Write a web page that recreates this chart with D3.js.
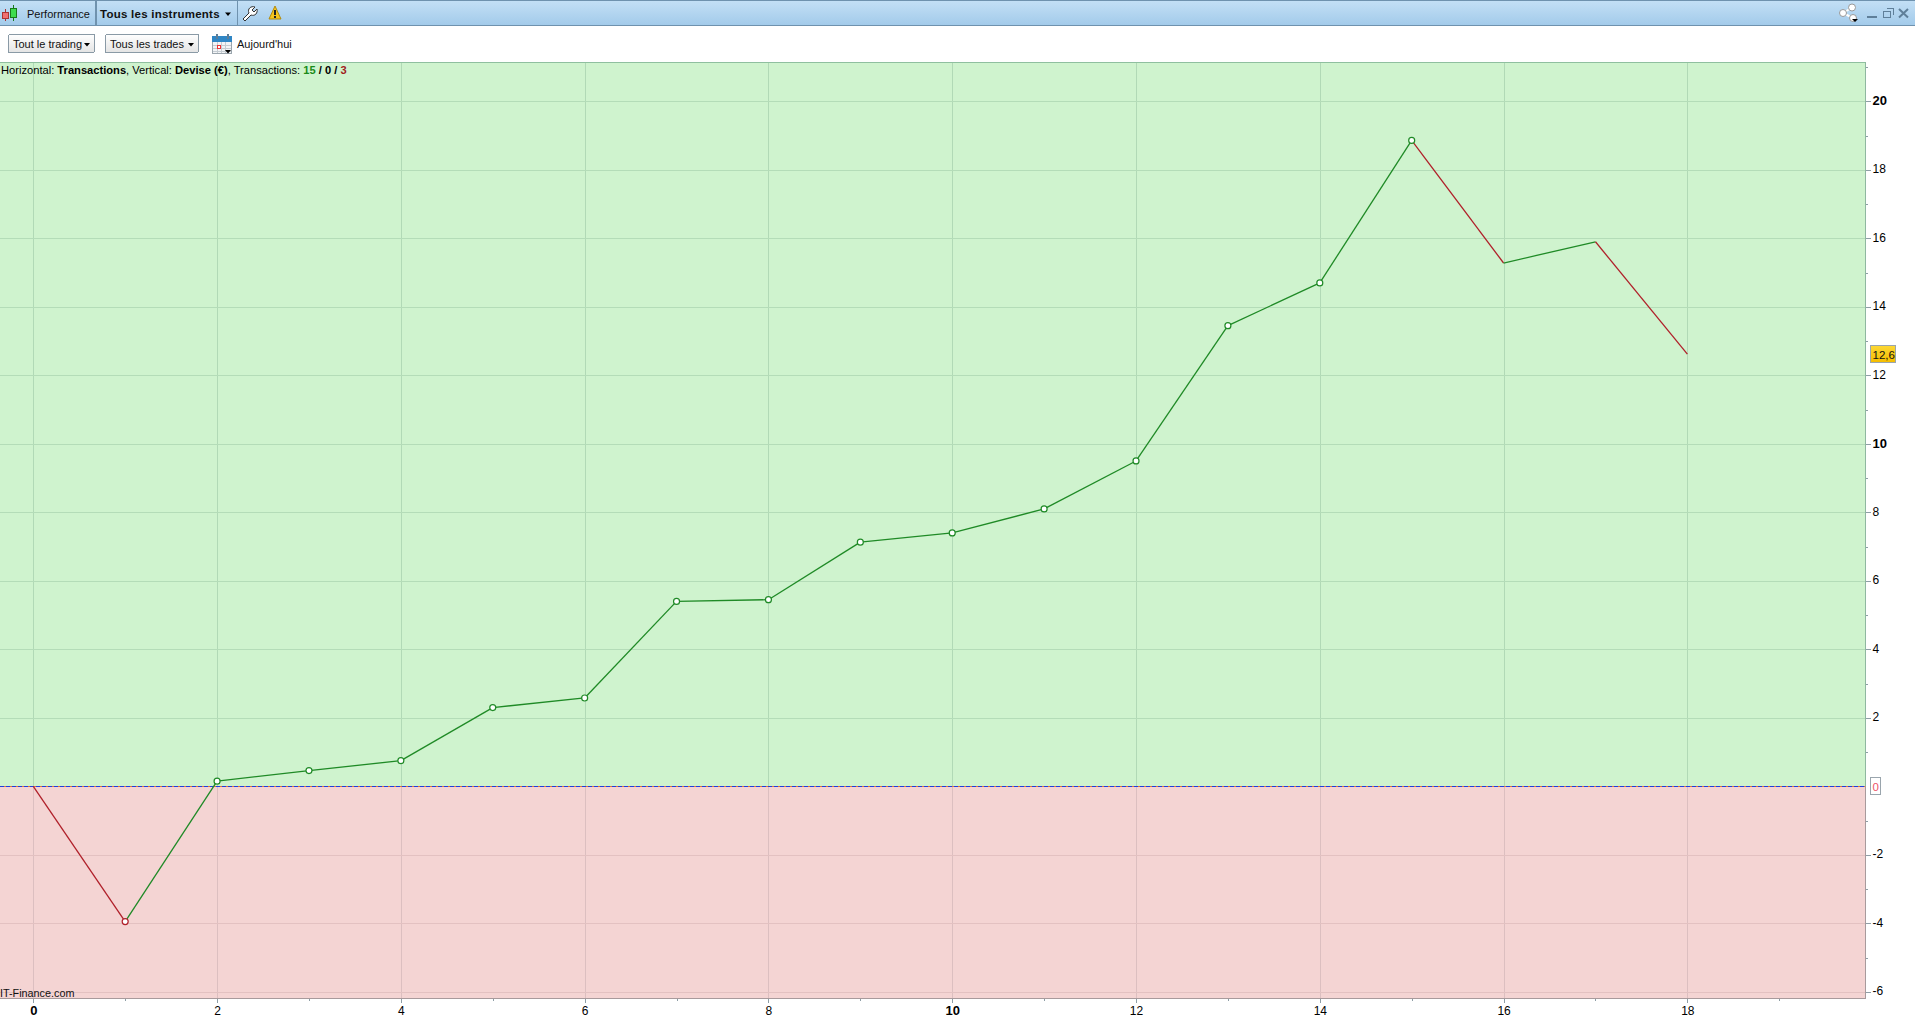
<!DOCTYPE html>
<html lang="fr"><head><meta charset="utf-8"><title>Performance</title>
<script src="https://cdn.jsdelivr.net/npm/d3@7"></script>
<style>
html,body{margin:0;padding:0;background:#fff;overflow:hidden}
svg{display:block;font-family:"Liberation Sans",Arial,sans-serif;shape-rendering:crispEdges}
text{shape-rendering:auto;fill:#000}
</style></head><body><svg id="c" width="1915" height="1018"></svg>
<script>
const transactions=[0,1,2,3,4,5,6,7,8,9,10,11,12,13,14,15,16,17,18];
const equity=[0,-3.95,0.15,0.46,0.75,2.3,2.58,5.4,5.45,7.13,7.4,8.1,9.5,13.45,14.7,18.86,15.28,15.9,12.62];
const markerShown=[false,true,true,true,true,true,true,true,true,true,true,true,true,true,true,true,false,false,false];
const xTicks=[0,1,2,3,4,5,6,7,8,9,10,11,12,13,14,15,16,17,18,19];
const yTicks=[-6,-5,-4,-3,-2,-1,1,2,3,4,5,6,7,8,9,10,11,12,13,14,15,16,17,18,19,20,21];
const boldTicks=[0,10,20];
const lastLabel="12,6";
const zeroLabel="0";
const titleParts=[["Horizontal: ",400,"#000"],["Transactions",700,"#000"],[", Vertical: ",400,"#000"],["Devise (€)",700,"#000"],[", Transactions: ",400,"#000"],["15",700,"#1a8a1a"],[" / ",700,"#000"],["0",700,"#000"],[" / ",700,"#000"],["3",700,"#a01c1c"]];

const svg=d3.select("#c");
const P={l:0,r:1865,t:63,b:998};
const x=d3.scaleLinear().domain([-0.3623,19.933]).range([P.l,P.r]);
const y=d3.scaleLinear().domain([-6.18,21.12]).range([P.b,P.t]);
const defs=svg.append("defs");
const g=defs.append("linearGradient").attr("id","hdr").attr("x2",0).attr("y2",1);
g.append("stop").attr("offset",0).attr("stop-color","#c4e0f6");
g.append("stop").attr("offset",1).attr("stop-color","#a3cbea");
const bg=defs.append("linearGradient").attr("id","btn").attr("x2",0).attr("y2",1);
bg.append("stop").attr("offset",0).attr("stop-color","#ffffff");
bg.append("stop").attr("offset",1).attr("stop-color","#e4e4e4");
const tg=defs.append("linearGradient").attr("id","tag").attr("x2",0).attr("y2",1);
tg.append("stop").attr("offset",0).attr("stop-color","#fdd835");
tg.append("stop").attr("offset",1).attr("stop-color","#f5bd00");

// top bar
svg.append("rect").attr("width",1915).attr("height",25).attr("fill","url(#hdr)");
svg.append("rect").attr("y",25).attr("width",1915).attr("height",1).attr("fill","#6f92ae");
svg.append("rect").attr("width",1915).attr("height",1).attr("fill","#6f92ae");
[95,237].forEach(v=>svg.append("rect").attr("x",v).attr("y",1).attr("width",v==95?2:1).attr("height",24).attr("fill","#6f92ae"));
const bar=svg.append("g");
bar.append("line").attr("x1",5.5).attr("x2",5.5).attr("y1",9).attr("y2",21).attr("stroke","#a33");
bar.append("rect").attr("x",2.5).attr("y",12.5).attr("width",6).attr("height",6).attr("fill","#f07070").attr("stroke","#a33");
bar.append("line").attr("x1",13.5).attr("x2",13.5).attr("y1",5).attr("y2",21).attr("stroke","#1a7a1a");
bar.append("rect").attr("x",10.5).attr("y",8.5).attr("width",6).attr("height",9).attr("fill","#3fdc4f").attr("stroke","#1a7a1a");
const T=(tx,ty,s,size,w,ls,col)=>svg.append("text").attr("x",tx).attr("y",ty).text(s).attr("font-size",size).attr("font-weight",w||400).attr("letter-spacing",ls||0).style("fill",col||"#000");
T(27,18,"Performance",11,400,0,"#111");
T(100,18,"Tous les instruments",11.5,700,0.25,"#111");
const tri=(cx,cy,w,h,c)=>svg.append("path").attr("d",`M${cx-w/2},${cy}h${w}l${-w/2},${h}z`).attr("fill",c||"#000").style("shape-rendering","auto");
tri(228,12.5,6,3.5);
// wrench
svg.append("path").attr("d","M243,19 L249,13 C247,9 251,5.5 255,7 L252,10 L254,12 L257,9 C258,13 255,16.5 251,15 L245,21 Z").attr("fill","#fff").attr("stroke","#333").attr("stroke-width",1).style("shape-rendering","auto");
// warning
svg.append("path").attr("d","M275,6 L281,19 L269,19 Z").attr("fill","#f7c41c").attr("stroke","#b08a10").style("shape-rendering","auto");
svg.append("rect").attr("x",274).attr("y",10).attr("width",2).attr("height",5).attr("fill","#222");
svg.append("rect").attr("x",274).attr("y",16).attr("width",2).attr("height",2).attr("fill","#222");
// share / window controls
const sh=svg.append("g").style("shape-rendering","auto");
sh.append("path").attr("d","M1843,13 L1852,7.5 M1843,13 L1853,18").attr("stroke","#fff").attr("stroke-width",2).attr("fill","none");
[[1843,13],[1852,7.5],[1853,18]].forEach(p=>sh.append("circle").attr("cx",p[0]).attr("cy",p[1]).attr("r",3.5).attr("fill","#fff").attr("stroke","#999"));
tri(1855,19,6,3);
svg.append("rect").attr("x",1867).attr("y",16).attr("width",10).attr("height",2).attr("fill","#5f7f99");
svg.append("rect").attr("x",1883.5).attr("y",11.5).attr("width",7).attr("height",6).attr("fill","none").attr("stroke","#5f7f99");
svg.append("path").attr("d","M1886.5,8.5h6.5v6").attr("fill","none").attr("stroke","#5f7f99");
svg.append("path").attr("d","M1899,9 L1908,17.5 M1908,9 L1899,17.5").attr("stroke","#5f7f99").attr("stroke-width",2).style("shape-rendering","auto");

// toolbar
[[8,86,"Tout le trading",13],[105,93,"Tous les trades",110]].forEach(d=>{
  svg.append("rect").attr("x",d[0]+.5).attr("y",34.5).attr("width",d[1]).attr("height",18).attr("rx",1.5).attr("fill","url(#btn)").attr("stroke","#8a9aa6");
  T(d[3],48,d[2],11,400,0,"#111");
  tri(d[0]+d[1]-7,43,6,3.5);
});
const cal=svg.append("g");
cal.append("rect").attr("x",212.5).attr("y",39.5).attr("width",19).attr("height",14).attr("fill","#f2f4f6").attr("stroke","#9aa5ad");
cal.append("rect").attr("x",212).attr("y",36).attr("width",20).attr("height",6).attr("fill","#2f86c5");
[[216,34],[227,34]].forEach(p=>cal.append("rect").attr("x",p[0]).attr("y",p[1]).attr("width",2).attr("height",5).attr("fill","#5d7d96"));
[217,221,225].forEach(v=>cal.append("rect").attr("x",v).attr("y",42).attr("width",1).attr("height",11).attr("fill","#c5ccd2"));
[45,48,51].forEach(v=>cal.append("rect").attr("x",213).attr("y",v).attr("width",18).attr("height",1).attr("fill","#c5ccd2"));
cal.append("rect").attr("x",217.5).attr("y",45.5).attr("width",3).attr("height",3).attr("fill","#fff").attr("stroke","#e33");
tri(228,50,6,3.5);
T(237,48,"Aujourd'hui",11,400,0,"#111");

// plot backgrounds
svg.append("rect").attr("x",P.l).attr("y",P.t).attr("width",P.r-P.l).attr("height",y(0)-P.t).attr("fill","#cff3ce");
svg.append("rect").attr("x",P.l).attr("y",y(0)).attr("width",P.r-P.l).attr("height",P.b-y(0)).attr("fill","#f4d4d3");
svg.append("rect").attr("x",P.l).attr("y",62).attr("width",P.r+1).attr("height",1).attr("fill","#8fbf9f");

// grids
const evenX=xTicks.filter(d=>d%2==0), evenY=yTicks.filter(d=>d%2==0);
const grid=svg.append("g");
evenX.forEach(v=>{
  grid.append("line").attr("x1",Math.round(x(v))+.5).attr("x2",Math.round(x(v))+.5).attr("y1",P.t).attr("y2",y(0)).attr("stroke","#b1d9b6");
  grid.append("line").attr("x1",Math.round(x(v))+.5).attr("x2",Math.round(x(v))+.5).attr("y1",y(0)).attr("y2",P.b).attr("stroke","#dcbfc0");
});
evenY.forEach(v=>grid.append("line").attr("x1",P.l).attr("x2",P.r).attr("y1",Math.round(y(v))+.5).attr("y2",Math.round(y(v))+.5).attr("stroke",v>0?"#b4dcb8":"#e3c1c1"));

// zero line
svg.append("line").attr("x1",P.l).attr("x2",P.r).attr("y1",Math.round(y(0))+.5).attr("y2",Math.round(y(0))+.5).attr("stroke","#e07038");
svg.append("line").attr("x1",P.l).attr("x2",P.r).attr("y1",Math.round(y(0))+.5).attr("y2",Math.round(y(0))+.5).attr("stroke","#1f3fe0").attr("stroke-dasharray","4 2");

// axes
const yAxis=d3.axisRight(y).tickValues(yTicks).tickSize(4).tickPadding(2).tickFormat(d=>d%2==0?d:"");
const ya=svg.append("g").attr("transform",`translate(${P.r+.5},0)`).call(yAxis);
ya.select(".domain").remove();
ya.selectAll(".tick line").attr("stroke","#8e9ea6").attr("x2",d=>d%2==0?5:2);
ya.selectAll(".tick text").attr("x",7).attr("dy","0.26em").attr("font-size",d=>boldTicks.includes(d)?13:12).attr("font-weight",d=>boldTicks.includes(d)?700:400).attr("font-family","Liberation Sans").style("fill","#000");
const xAxis=d3.axisBottom(x).tickValues(xTicks).tickSize(4).tickPadding(3.5).tickFormat(d=>d%2==0?d:"");
const xa=svg.append("g").attr("transform",`translate(0,${P.b+.5})`).call(xAxis);
xa.select(".domain").remove();
xa.selectAll(".tick line").attr("stroke","#8e9ea6").attr("y2",d=>d%2==0?4:2);
xa.selectAll(".tick text").attr("font-size",d=>boldTicks.includes(d)?13:12).attr("font-weight",d=>boldTicks.includes(d)?700:400).attr("font-family","Liberation Sans").style("fill","#000");
// frame lines
svg.append("line").attr("x1",P.r+.5).attr("x2",P.r+.5).attr("y1",62).attr("y2",y(0)).attr("stroke","#8fb7a0");
svg.append("line").attr("x1",P.r+.5).attr("x2",P.r+.5).attr("y1",y(0)).attr("y2",P.b+1).attr("stroke","#a89a9c");
svg.append("line").attr("x1",0).attr("x2",P.r+1).attr("y1",P.b+.5).attr("y2",P.b+.5).attr("stroke","#a89a9c");

// line segments
const segs=svg.append("g").style("shape-rendering","auto");
d3.pairs(transactions.map((t,i)=>[t,equity[i]])).forEach(([a,b])=>{
  segs.append("line").attr("x1",x(a[0])).attr("y1",y(a[1])).attr("x2",x(b[0])).attr("y2",y(b[1]))
    .attr("stroke",b[1]>=a[1]?"#1f8a26":"#b0202a").attr("stroke-width",1.3);
});
const pts=svg.append("g").style("shape-rendering","auto");
transactions.forEach((t,i)=>{ if(markerShown[i]) pts.append("circle").attr("cx",x(t)).attr("cy",y(equity[i])).attr("r",3).attr("fill","#fff").attr("stroke",equity[i]<0?"#b0202a":"#1f8a26").attr("stroke-width",1.2); });

// header text in plot
const tt=svg.append("text").attr("x",1).attr("y",74).attr("font-size",11.15);
titleParts.forEach(p=>tt.append("tspan").text(p[0]).attr("font-weight",p[1]).style("fill",p[2]));
tt.style("white-space","pre");
T(0,997,"IT-Finance.com",10.8,400,0,"#111");

// tags
const lastY=y(equity[equity.length-1]);
svg.append("rect").attr("x",1870.5).attr("y",Math.round(lastY)-8.5).attr("width",25).attr("height",17).attr("fill","url(#tag)").attr("stroke","#9aa5ad");
T(1872.5,Math.round(lastY)+5,lastLabel,11.5,400,0,"#111");
const zy=y(0);
svg.append("rect").attr("x",1870.5).attr("y",Math.round(zy)-8.5).attr("width",10).attr("height",17).attr("fill","#fff").attr("stroke","#9aa5ad");
T(1872.5,Math.round(zy)+4.5,zeroLabel,11.5,400,0,"#ee5566");
</script></body></html>
